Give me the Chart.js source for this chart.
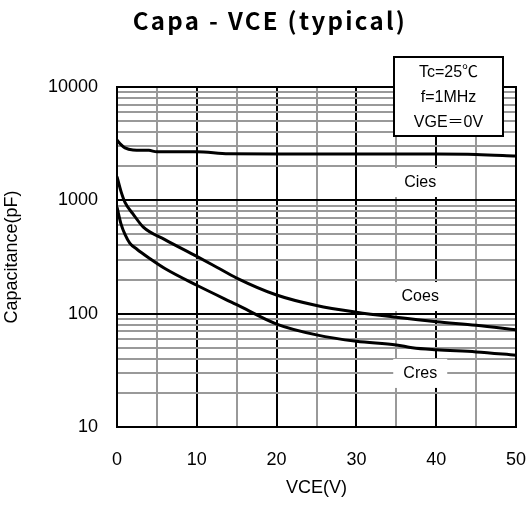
<!DOCTYPE html>
<html>
<head>
<meta charset="utf-8">
<script src="https://cdn.jsdelivr.net/npm/chart.js@4/dist/chart.umd.min.js"></script>
<style>
html, body { margin: 0; padding: 0; background: #fff; }
#wrap { width: 529px; height: 505px; }
</style>
</head>
<body>
<div id="wrap"><canvas id="capChart"></canvas></div>
<script>
// values (VCE in V, capacitance in pF)
const ciesV = [0, 0.5, 1, 2, 4, 5, 10, 14, 20, 30, 40, 45, 50];
const ciesC = [3400, 3100, 2900, 2780, 2760, 2680, 2680, 2570, 2560, 2560, 2560, 2540, 2460];
const coesV = [0, 0.5, 1, 2, 3.3, 6, 10, 12.5, 15, 20, 25, 30, 35, 40, 45, 50];
const coesC = [1620, 1200, 960, 760, 580, 450, 320, 257, 206, 146, 118, 103, 93, 85, 79, 72];
const cresV = [0, 0.5, 1, 1.6, 2.5, 4, 6, 10, 15, 20, 25, 30, 35, 37, 40, 45, 50];
const cresC = [870, 620, 500, 420, 370, 310, 250, 178, 120, 81, 65, 57, 53, 50, 48, 46, 43];

const xTicks = [0, 5, 10, 15, 20, 25, 30, 35, 40, 45, 50];
const yDecades = [10, 100, 1000, 10000];
const curveNames = ['Cies', 'Coes', 'Cres'];
const curveLabelAt = [[38, 1450], [38, 143], [38, 30]];
const noteLines = ['Tc=25℃', 'f=1MHz', 'VGE＝0V'];
const titleText = 'Capa - VCE (typical)';

const SANS = '"Liberation Sans", Arial, "Noto Sans CJK JP", sans-serif';

const pts = (xs, ys) => xs.map((x, i) => ({ x: x, y: ys[i] }));
const isDecade = v => Math.abs(Math.log10(v) - Math.round(Math.log10(v))) < 1e-9;

const lineStyle = {
    borderColor: '#000',
    borderWidth: 3,
    pointRadius: 0,
    fill: false,
    cubicInterpolationMode: 'monotone'
};

const extras = {
    id: 'extras',
    afterDraw(chart) {
        const ctx = chart.ctx;
        const a = chart.chartArea;
        const xs = chart.scales.x, ys = chart.scales.y;
        ctx.save();
        // frame
        ctx.strokeStyle = '#000';
        ctx.lineWidth = 2;
        ctx.strokeRect(a.left, a.top, a.right - a.left, a.bottom - a.top);

        // curve labels
        ctx.font = '16px ' + SANS;
        ctx.textAlign = 'center';
        ctx.textBaseline = 'middle';
        curveNames.forEach((name, i) => {
            const px = xs.getPixelForValue(curveLabelAt[i][0]);
            const py = ys.getPixelForValue(curveLabelAt[i][1]);
            ctx.fillStyle = '#fff';
            ctx.fillRect(px - 27, py - 14, 54, 29);
            ctx.fillStyle = '#000';
            ctx.fillText(name, px, py + 1);
        });

        // condition box
        const bx = 394, by = 57, bw = 109, bh = 79;
        ctx.fillStyle = '#fff';
        ctx.fillRect(bx, by, bw, bh);
        ctx.strokeStyle = '#000';
        ctx.lineWidth = 2;
        ctx.strokeRect(bx, by, bw, bh);
        ctx.fillStyle = '#000';
        ctx.font = '16px ' + SANS;
        noteLines.forEach((t, i) => ctx.fillText(t, bx + bw / 2, by + 16 + i * 25));

        // title
        ctx.font = 'bold 24px "Noto Sans CJK JP", sans-serif';
        ctx.letterSpacing = '2.3px';
        ctx.fillText(titleText, 270, 21);
        ctx.restore();
    }
};

new Chart(document.getElementById('capChart'), {
    type: 'line',
    data: {
        datasets: [
            Object.assign({ label: 'Cies', data: pts(ciesV, ciesC) }, lineStyle),
            Object.assign({ label: 'Coes', data: pts(coesV, coesC) }, lineStyle),
            Object.assign({ label: 'Cres', data: pts(cresV, cresC) }, lineStyle)
        ]
    },
    options: {
        responsive: true,
        maintainAspectRatio: false,
        animation: false,
        layout: { padding: { left: 0, right: 13, top: 87, bottom: 0 } },
        scales: {
            x: {
                type: 'linear',
                min: 0,
                max: 50,
                afterBuildTicks: s => { s.ticks = xTicks.map(v => ({ value: v })); },
                afterFit: s => { s.height = 78; s.paddingLeft = 0; s.paddingRight = 0; },
                grid: {
                    drawTicks: false,
                    lineWidth: 2,
                    color: c => (c.tick && c.tick.value % 10 === 0) ? '#000' : '#999'
                },
                border: { display: true, color: '#000', width: 2 },
                ticks: {
                    padding: 22,
                    color: '#000',
                    maxRotation: 0,
                    font: { size: 18, family: SANS },
                    callback: v => (v % 10 === 0 ? String(v) : '')
                },
                title: {
                    display: true,
                    text: 'VCE(V)',
                    color: '#000',
                    font: { size: 18, family: SANS },
                    padding: { top: 0, bottom: 6 }
                }
            },
            y: {
                type: 'logarithmic',
                min: 10,
                max: 10000,
                afterBuildTicks: s => {
                    const t = [];
                    yDecades.slice(0, -1).forEach(d => {
                        for (let k = 1; k < 10; k++) t.push({ value: d * k });
                    });
                    t.push({ value: yDecades[yDecades.length - 1] });
                    s.ticks = t;
                },
                afterFit: s => { s.width = 117; s.paddingTop = 0; s.paddingBottom = 0; },
                grid: {
                    drawTicks: false,
                    lineWidth: 2,
                    color: c => (c.tick && isDecade(c.tick.value)) ? '#000' : '#999'
                },
                border: { display: true, color: '#000', width: 2 },
                ticks: {
                    padding: 19,
                    color: '#000',
                    autoSkip: false,
                    font: { size: 18, family: SANS },
                    callback: v => (isDecade(v) ? String(v) : '')
                },
                title: {
                    display: true,
                    text: 'Capacitance(pF)',
                    color: '#000',
                    font: { size: 18, family: SANS },
                    padding: 1
                }
            }
        },
        plugins: {
            legend: { display: false },
            tooltip: { enabled: false }
        }
    },
    plugins: [extras]
});
</script>
</body>
</html>
